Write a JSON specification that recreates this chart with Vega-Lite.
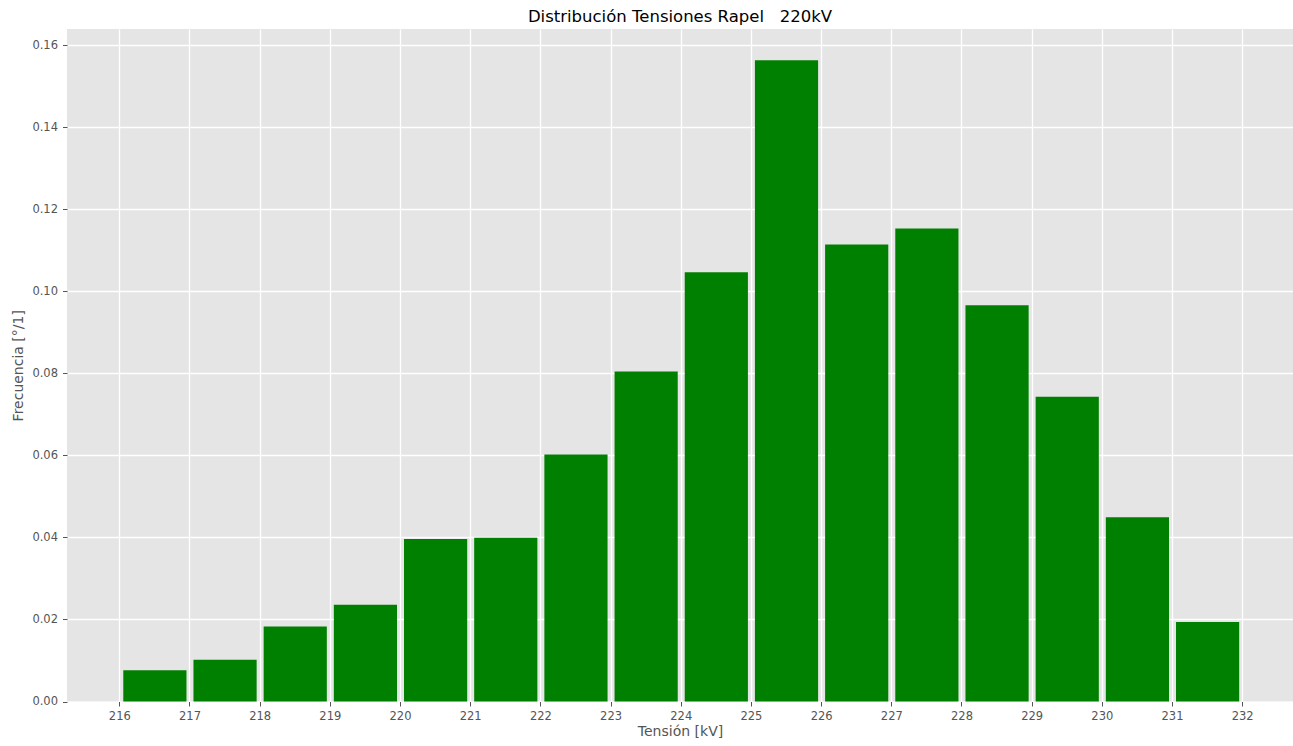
{
  "$schema": "https://vega.github.io/schema/vega-lite/v6.json",
  "width": 1226,
  "height": 672.5,
  "autosize": {"type": "none"},
  "padding": {"left": 67, "top": 29, "right": 0, "bottom": 44.5},
  "background": "white",
  "config": {
    "view": {"fill": "#E5E5E5", "stroke": null},
    "font": "DejaVu Sans"
  },
  "title": {
    "text": "Distribución Tensiones Rapel\u00a0\u00a0\u00a0220kV",
    "fontSize": 16.5,
    "fontWeight": "normal",
    "color": "black",
    "font": "DejaVu Sans",
    "anchor": "middle",
    "offset": 4
  },
  "data": {
    "values": [
      {"start": 216, "end": 217, "freq": 0.0076},
      {"start": 217, "end": 218, "freq": 0.0102},
      {"start": 218, "end": 219, "freq": 0.0183},
      {"start": 219, "end": 220, "freq": 0.0236},
      {"start": 220, "end": 221, "freq": 0.0396},
      {"start": 221, "end": 222, "freq": 0.0399},
      {"start": 222, "end": 223, "freq": 0.0602},
      {"start": 223, "end": 224, "freq": 0.0804},
      {"start": 224, "end": 225, "freq": 0.1046},
      {"start": 225, "end": 226, "freq": 0.1563},
      {"start": 226, "end": 227, "freq": 0.1114},
      {"start": 227, "end": 228, "freq": 0.1153},
      {"start": 228, "end": 229, "freq": 0.0966},
      {"start": 229, "end": 230, "freq": 0.0743},
      {"start": 230, "end": 231, "freq": 0.0449},
      {"start": 231, "end": 232, "freq": 0.0194}
    ]
  },
  "mark": {"type": "bar", "color": "#008000", "binSpacing": 7},
  "encoding": {
    "x": {
      "field": "start",
      "type": "quantitative",
      "bin": "binned",
      "scale": {"domain": [215.255, 232.724], "nice": false, "zero": false},
      "axis": {
        "title": "Tensión [kV]",
        "values": [216, 217, 218, 219, 220, 221, 222, 223, 224, 225, 226, 227, 228, 229, 230, 231, 232],
        "format": "d",
        "domain": false,
        "grid": true,
        "gridColor": "white",
        "gridWidth": 1.3,
        "tickColor": "#555555",
        "tickSize": 4.5,
        "tickWidth": 1,
        "labelColor": "#555555",
        "labelFontSize": 11.5,
        "labelFont": "DejaVu Sans",
        "labelPadding": 4,
        "titleColor": "#555555",
        "titleFontSize": 14,
        "titleFontWeight": "normal",
        "titleFont": "DejaVu Sans",
        "titlePadding": 3
      }
    },
    "x2": {"field": "end"},
    "y": {
      "field": "freq",
      "type": "quantitative",
      "scale": {"domain": [0, 0.1639], "nice": false},
      "axis": {
        "title": "Frecuencia [°/1]",
        "values": [0, 0.02, 0.04, 0.06, 0.08, 0.1, 0.12, 0.14, 0.16],
        "format": ".2f",
        "domain": false,
        "grid": true,
        "gridColor": "white",
        "gridWidth": 1.3,
        "tickColor": "#555555",
        "tickSize": 4.5,
        "tickWidth": 1,
        "labelColor": "#555555",
        "labelFontSize": 11.5,
        "labelFont": "DejaVu Sans",
        "labelPadding": 5,
        "titleColor": "#555555",
        "titleFontSize": 14,
        "titleFontWeight": "normal",
        "titleFont": "DejaVu Sans",
        "titlePadding": 6
      }
    }
  }
}
